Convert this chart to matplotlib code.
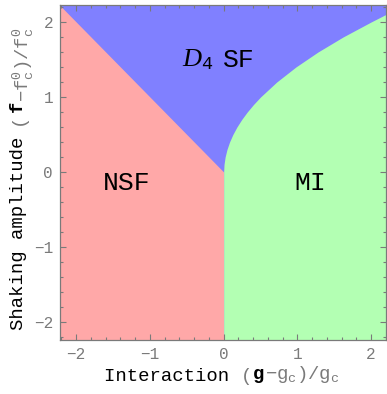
import matplotlib
matplotlib.use('Agg')
import matplotlib.pyplot as plt
from matplotlib.ticker import MultipleLocator

plt.rcParams['mathtext.fontset'] = 'custom'
plt.rcParams['mathtext.rm'] = 'Liberation Mono'
plt.rcParams['mathtext.it'] = 'Liberation Serif:italic'
plt.rcParams['mathtext.bf'] = 'Liberation Mono:bold'

# phase boundaries
xlim = (-2.22, 2.2)
ylim = (-2.24, 2.23)

# NSF / D4 SF boundary (straight line)
line_x = [-2.22, 0.0]
line_y = [2.22, 0.0]

# D4 SF / MI boundary (x > 0)
curve_x = [0.0, 0.005, 0.02, 0.045, 0.08, 0.125, 0.18, 0.245, 0.32, 0.405,
           0.5, 0.72, 0.98, 1.28, 1.62, 2.0, 2.2]
curve_y = [0.0, 0.1, 0.2, 0.3, 0.4, 0.5, 0.6, 0.7, 0.8, 0.9,
           1.0, 1.2, 1.4, 1.6, 1.8, 2.0, 2.1]

ticks = [-2, -1, 0, 1, 2]
tick_labels = ['\u22122', '\u22121', '0', '1', '2']

pink = '#ffa8a8'
blue = '#8080ff'
green = '#b3ffb3'
gray = '#7a7a7a'
mono = 'Liberation Mono'

fig = plt.figure(figsize=(3.87, 3.94), dpi=100)
ax = fig.add_axes([0.155, 0.137, 0.842, 0.851])

# D4 SF fills everything, the others sit on top
ax.fill_between([xlim[0], xlim[1]], [ylim[0]] * 2, [ylim[1]] * 2, color=blue, lw=0)
ax.fill_between(line_x, [ylim[0]] * 2, line_y, color=pink, lw=0)
ax.fill_between(curve_x, [ylim[0]] * len(curve_x), curve_y, color=green, lw=0)

ax.set_xlim(*xlim)
ax.set_ylim(*ylim)
ax.set_xticks(ticks)
ax.set_yticks(ticks)
ax.set_xticklabels(tick_labels)
ax.set_yticklabels(tick_labels)
ax.xaxis.set_minor_locator(MultipleLocator(0.2))
ax.yaxis.set_minor_locator(MultipleLocator(0.2))
ax.tick_params(which='both', direction='in', top=True, right=True, color=gray,
               labelcolor=gray, labelsize=11.5, labelfontfamily=mono, width=0.8)
ax.tick_params(which='major', length=4, pad=5)
ax.tick_params(which='minor', length=2)
for s in ax.spines.values():
    s.set_color(gray)
    s.set_linewidth(0.9)

# region labels
ax.text(-1.31, -0.15, 'NSF', fontsize=19, family=mono, ha='center', va='center')
ax.text(1.17, -0.15, 'MI', fontsize=19, family=mono, ha='center', va='center')
d4 = ax.text(-0.57, 1.41, r'$D_4$', fontsize=19, ha='left', va='baseline')
ax.annotate('SF', xy=(1, 0), xycoords=d4, xytext=(7, 0), textcoords='offset points',
            fontsize=19, family=mono, ha='left', va='bottom')

fs = 13.6

# x label, pieces in black and gray
prev = fig.text(0.27, 0.033, 'Interaction ', fontsize=fs, family=mono, va='baseline')
parts = [('(', gray), (r'$\mathbf{g}$', 'black'), (r'$\mathrm{-g_c)/g_c}$', gray)]
for s, c in parts:
    prev = ax.annotate(s, xy=(1, 0), xycoords=prev, fontsize=fs, family=mono,
                       color=c, ha='left', va='bottom', annotation_clip=False)

# y label, rotated
prev = fig.text(0.026, 0.162, 'Shaking amplitude ', fontsize=fs, family=mono,
                rotation=90, ha='left', va='bottom')
yparts = [('(', gray), (r'$\mathbf{f}$', 'black'),
          (r'$\mathrm{-f_c^0)/f_c^0}$', gray)]
for s, c in yparts:
    prev = ax.annotate(s, xy=(0, 1), xycoords=prev, fontsize=fs, family=mono,
                       color=c, rotation=90, ha='left', va='bottom',
                       annotation_clip=False)

fig.savefig('out.png', dpi=100)
